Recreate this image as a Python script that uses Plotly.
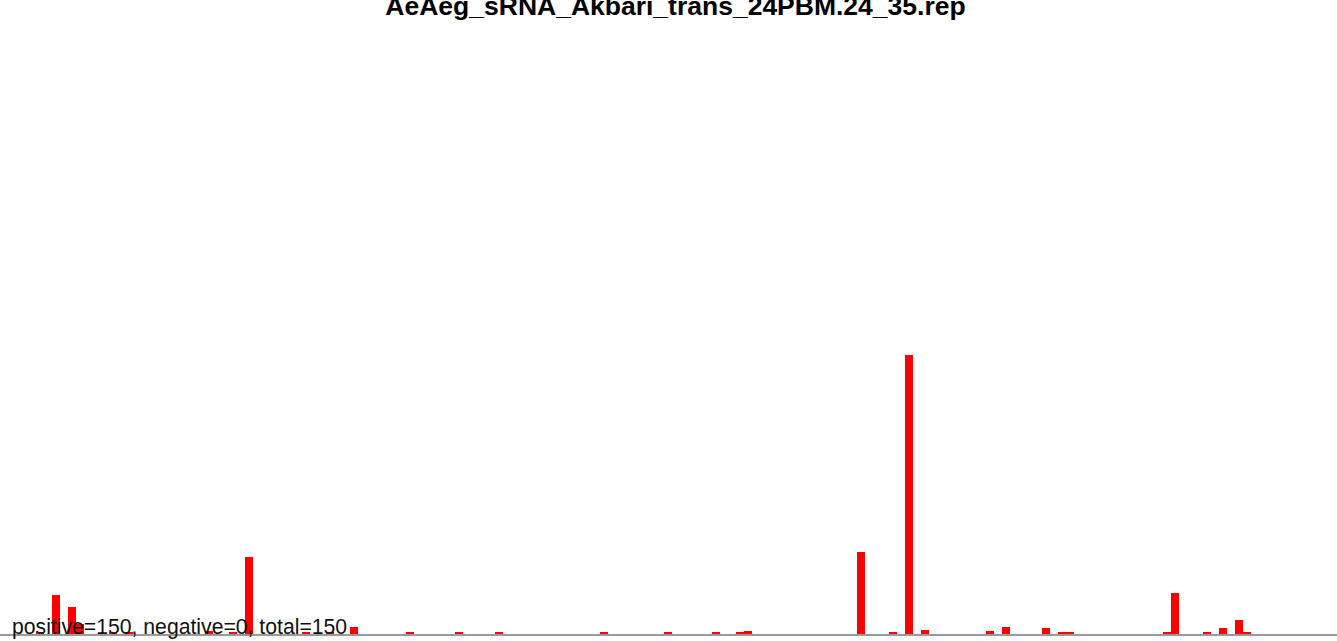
import plotly.graph_objects as go

# bin positions along the element and bar heights (arbitrary units)
positions = [5, 7, 9, 10, 14, 16, 26, 29, 31, 38, 41, 44, 51, 57, 62, 75, 83, 89, 92, 93,
             107, 111, 113, 115, 123, 125, 130, 132, 133, 145, 146, 150, 152, 154, 155]
heights = [2.5, 39, 27, 10, 1.5, 1.5, 3, 1.5, 77, 1.5, 1.5, 7, 2.5, 1.5, 1.5, 1.5, 1.5, 2.5, 1.5, 3,
           82, 1.5, 279, 4.5, 3.5, 7, 6, 1.5, 1.5, 2.5, 41, 1.5, 6, 14, 1.5]

title_text = "AeAeg_sRNA_Akbari_trans_24PBM.24_35.rep"
summary_text = "positive=150, negative=0, total=150"

fig = go.Figure()
fig.add_trace(go.Bar(x=positions, y=heights, marker=dict(color="#ff0000", line=dict(width=0)),
                     hoverinfo="x+y"))

fig.update_layout(
    width=1337, height=641,
    margin=dict(l=0, r=0, t=40, b=7),
    paper_bgcolor="white", plot_bgcolor="white",
    bargap=0,
    showlegend=False,
    title=dict(text=title_text, x=675.5 / 1337, xanchor="center",
               yref="container", y=1 - 5.5 / 641, yanchor="middle",
               font=dict(family="Liberation Sans, Arial, sans-serif", size=26.5, color="black", weight="bold")),
    xaxis=dict(range=[0, 166.15], showgrid=False, zeroline=False, showticklabels=False,
               ticks="", showline=True, linecolor="#9a9a9a", linewidth=2, layer="below traces"),
    yaxis=dict(range=[0, 594], showgrid=False, zeroline=False, showticklabels=False,
               ticks="", showline=False),
    annotations=[dict(text=summary_text, xref="paper", yref="paper", x=0, y=0,
                      xanchor="left", yanchor="bottom", xshift=9.5, yshift=-7, showarrow=False,
                      font=dict(family="Liberation Sans, Arial, sans-serif", size=21.2, color="#111111"))],
)

fig.write_html("out.html", config={"displayModeBar": False},
               post_script="document.body.style.margin='0';document.body.style.overflow='hidden';")
